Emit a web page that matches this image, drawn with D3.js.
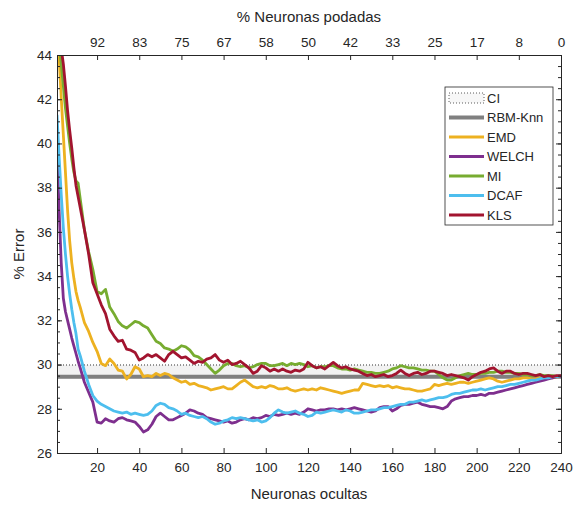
<!DOCTYPE html>
<html>
<head>
<meta charset="utf-8">
<script src="https://cdn.jsdelivr.net/npm/d3@7"></script>
<style>
  body { margin: 0; background: #fff; }
  text { font-family: "Liberation Sans", Arial, sans-serif; fill: #262626; }
</style>
</head>
<body>
<div id="chart"></div>
<script>
// hidden neurons (x positions of the samples)
var neurons = [1,2,3,4,5,6,7,8,9,10,11,12,14,16,18,20,22,
  24,26,28,30,32,34,36,38,40,42,
  44,46,48,50,52,54,56,58,60,62,
  64,66,68,70,72,74,76,78,80,82,
  84,86,88,90,92,94,96,98,100,102,
  104,106,108,110,112,114,116,118,120,122,
  124,126,128,130,132,134,136,138,140,142,
  144,146,148,150,152,154,156,158,160,162,
  164,166,168,170,172,174,176,178,180,182,
  184,186,188,190,192,194,196,198,200,202,
  204,206,208,210,212,214,216,218,220,222,
  224,226,228,230,232,234,236,238,240];

var emd = [45.7,43.9,42.1,40.4,38.7,37.0,35.6,34.6,33.9,33.3,32.9,32.6,31.9,31.5,31.0,30.6,30.05,
  29.95,30.25,30.05,29.75,29.7,29.35,29.55,29.9,29.8,29.45,
  29.5,29.45,29.6,29.5,29.6,29.55,29.4,29.3,29.2,29.25,
  29.1,29.15,29.05,29.0,28.95,28.85,28.9,28.95,29.0,28.9,
  28.9,29.05,29.2,29.3,29.15,29.0,28.95,29.0,28.95,29.05,
  29.0,28.9,28.9,28.95,28.85,28.8,28.85,28.9,28.85,28.9,
  28.85,28.95,28.9,28.85,28.8,28.75,28.7,28.75,28.8,28.85,
  28.85,29.15,29.1,29.05,29.0,29.05,29.0,29.05,28.95,29.0,
  28.95,28.9,28.9,28.85,28.8,28.8,28.85,28.9,29.1,29.05,
  29.1,29.15,29.1,29.15,29.2,29.2,29.15,29.2,29.25,29.3,
  29.35,29.4,29.35,29.25,29.2,29.25,29.3,29.35,29.35,29.4,
  29.4,29.35,29.35,29.4,29.4,29.45,29.4,29.45,29.45];

var welch = [39.9,37.0,34.6,33.0,32.4,32.0,31.6,31.2,30.85,30.5,30.15,29.85,29.2,28.75,28.3,27.4,27.35,
  27.55,27.45,27.4,27.55,27.6,27.5,27.45,27.4,27.2,26.95,
  27.05,27.3,27.65,27.8,27.65,27.5,27.5,27.6,27.7,27.8,
  27.95,27.9,27.8,27.75,27.6,27.55,27.5,27.45,27.4,27.45,
  27.35,27.4,27.5,27.55,27.5,27.6,27.55,27.6,27.7,27.65,
  27.75,27.7,27.75,27.8,27.75,27.8,27.75,27.85,28.0,27.95,
  27.9,27.95,27.95,28.0,28.0,27.95,28.0,27.95,28.0,28.05,
  28.0,27.95,27.9,27.85,27.9,28.05,28.1,28.1,27.9,28.0,
  28.15,28.2,28.2,28.25,28.3,28.2,28.15,28.1,28.1,28.05,
  28.0,28.1,28.35,28.45,28.5,28.55,28.55,28.6,28.6,28.65,
  28.6,28.7,28.7,28.75,28.8,28.85,28.9,28.95,29.0,29.05,
  29.1,29.15,29.2,29.25,29.3,29.35,29.4,29.45,29.45];

var mi = [45.5,44.5,43.6,42.6,41.6,40.8,40.0,39.3,38.7,38.3,38.2,37.5,36.1,35.1,34.3,33.3,33.2,
  33.4,32.6,32.3,31.95,31.75,31.65,31.8,31.95,31.9,31.75,
  31.65,31.35,31.05,30.95,30.75,30.7,30.6,30.7,30.85,30.8,
  30.65,30.4,30.35,30.2,30.0,29.8,29.6,29.75,29.95,30.05,
  30.05,29.95,29.9,29.95,29.85,29.9,30.0,30.05,30.05,29.95,
  29.95,30.0,30.05,29.95,30.05,30.0,30.05,30.0,29.9,29.95,
  29.85,29.9,29.9,29.95,29.95,29.85,29.8,29.8,29.75,29.8,
  29.75,29.7,29.65,29.65,29.6,29.6,29.65,29.7,29.8,29.85,
  29.95,29.9,29.85,29.85,29.8,29.75,29.75,29.7,29.7,29.55,
  29.4,29.3,29.3,29.4,29.5,29.55,29.6,29.55,29.55,29.6,
  29.6,29.65,29.65,29.7,29.7,29.65,29.65,29.6,29.6,29.55,
  29.55,29.5,29.5,29.55,29.5,29.5,29.5,29.45,29.5];

var dcaf = [41.3,39.4,37.7,36.2,35.0,34.0,33.2,32.5,31.9,31.4,30.7,30.4,29.7,29.1,28.6,28.35,28.2,
  28.1,28.0,27.9,27.85,27.8,27.85,27.75,27.8,27.75,27.7,
  27.75,27.9,28.15,28.25,28.2,28.05,28.0,27.9,27.75,27.8,
  27.7,27.65,27.6,27.65,27.55,27.4,27.3,27.35,27.45,27.5,
  27.6,27.55,27.6,27.55,27.5,27.45,27.5,27.4,27.45,27.6,
  27.8,27.95,27.85,27.8,27.85,27.9,27.8,27.75,27.65,27.7,
  27.85,27.8,27.85,27.9,27.95,27.9,27.85,27.95,27.9,27.8,
  27.8,27.85,27.9,27.95,27.95,28.0,28.05,28.05,28.1,28.15,
  28.2,28.2,28.3,28.3,28.35,28.4,28.35,28.4,28.45,28.5,
  28.5,28.55,28.65,28.7,28.7,28.75,28.8,28.85,28.85,28.9,
  28.85,28.9,28.95,29.0,29.0,29.05,29.1,29.1,29.15,29.2,
  29.25,29.3,29.3,29.35,29.4,29.4,29.45,29.45,29.5];

var kls = [46.5,45.3,44.3,43.6,42.6,41.5,40.6,39.8,38.9,38.1,37.6,37.1,36.1,35.0,33.7,33.2,32.7,
  32.3,31.6,31.3,31.05,31.1,30.7,30.65,30.55,30.2,30.3,
  30.45,30.35,30.45,30.3,30.15,30.45,30.6,30.45,30.3,30.35,
  30.2,30.05,30.15,30.1,30.25,30.3,30.45,30.2,30.1,30.2,
  30.0,30.05,30.15,30.0,29.85,29.6,29.7,29.95,29.85,29.7,
  29.8,29.7,29.8,29.7,29.65,29.75,29.7,29.8,30.1,29.95,
  29.85,29.9,29.8,29.95,30.1,29.95,29.85,29.9,29.8,29.75,
  29.7,29.6,29.5,29.55,29.45,29.5,29.55,29.45,29.5,29.6,
  29.75,29.6,29.5,29.6,29.65,29.55,29.6,29.7,29.7,29.65,
  29.6,29.5,29.55,29.5,29.45,29.4,29.3,29.45,29.55,29.65,
  29.7,29.8,29.85,29.7,29.6,29.7,29.7,29.6,29.55,29.6,
  29.6,29.55,29.5,29.55,29.45,29.5,29.45,29.5,29.5];

var rbmKnn = 29.45;
var ciBand = [29.35, 29.98];

var seriesNames = ["EMD", "WELCH", "MI", "DCAF", "KLS"];
var seriesColors = ["#EDB120", "#7E2F8E", "#77AC30", "#4DBEEE", "#A2142F"];
var seriesValues = [emd, welch, mi, dcaf, kls];

var xTicks = [20,40,60,80,100,120,140,160,180,200,220,240];
var topLabels = ["92","83","75","67","58","50","42","33","25","17","8","0"];
var yTicks = [26,28,30,32,34,36,38,40,42,44];

var width = 575, height = 506;
var margin = {top: 55, right: 14, bottom: 53, left: 57};

var svg = d3.select("#chart").append("svg")
    .attr("width", width)
    .attr("height", height);

var x = d3.scaleLinear().domain([1, 240]).range([margin.left, width - margin.right]);
var y = d3.scaleLinear().domain([26, 44]).range([height - margin.bottom, margin.top]);

svg.append("clipPath").attr("id", "plotclip")
  .append("rect")
    .attr("x", margin.left).attr("y", margin.top)
    .attr("width", x.range()[1] - margin.left)
    .attr("height", y.range()[0] - margin.top);

var plot = svg.append("g").attr("clip-path", "url(#plotclip)");

// CI band
plot.append("rect")
    .attr("x", x(1)).attr("width", x(240) - x(1))
    .attr("y", y(ciBand[1])).attr("height", y(ciBand[0]) - y(ciBand[1]))
    .attr("fill", "#f2f2f2");
plot.append("line")
    .attr("x1", x(1)).attr("x2", x(240))
    .attr("y1", y(ciBand[1])).attr("y2", y(ciBand[1]))
    .attr("stroke", "#333").attr("stroke-width", 1)
    .attr("stroke-dasharray", "1,2");

// RBM-Knn reference
plot.append("line")
    .attr("x1", x(1)).attr("x2", x(240))
    .attr("y1", y(rbmKnn)).attr("y2", y(rbmKnn))
    .attr("stroke", "#808080").attr("stroke-width", 4);

var line = d3.line()
    .x(function(d, i) { return x(neurons[i]); })
    .y(function(d) { return y(d); });

seriesValues.forEach(function(vals, k) {
  plot.append("path")
      .datum(vals)
      .attr("d", line)
      .attr("fill", "none")
      .attr("stroke", seriesColors[k])
      .attr("stroke-width", 2.8)
      .attr("stroke-linejoin", "round");
});

// axes
function styleAxis(g) {
  g.select(".domain").attr("stroke", "#262626");
  g.selectAll(".tick line").attr("stroke", "#262626");
  g.selectAll(".tick text")
    .style("font-family", "Liberation Sans, Arial, sans-serif")
    .style("font-size", "13.5px")
    .attr("fill", "#262626");
}

var yBottom = y.range()[0];
var xRight = x.range()[1];

svg.append("g")
    .attr("transform", "translate(0," + yBottom + ")")
    .call(d3.axisBottom(x).tickValues(xTicks).tickSizeInner(-5).tickSizeOuter(0).tickPadding(9))
    .call(styleAxis);

svg.append("g")
    .attr("transform", "translate(0," + margin.top + ")")
    .call(d3.axisTop(x).tickValues(xTicks).tickSizeInner(-5).tickSizeOuter(0).tickPadding(8)
      .tickFormat(function(d, i) { return topLabels[i]; }))
    .call(styleAxis);

var minorY = d3.range(26, 44.01, 0.5);
svg.append("g")
    .attr("transform", "translate(" + margin.left + ",0)")
    .call(d3.axisLeft(y).tickValues(minorY).tickSize(-3).tickFormat(""))
    .call(styleAxis);
svg.append("g")
    .attr("transform", "translate(" + margin.left + ",0)")
    .call(d3.axisLeft(y).tickValues(yTicks).tickSizeInner(-5).tickSizeOuter(0).tickPadding(5))
    .call(styleAxis);

svg.append("g")
    .attr("transform", "translate(" + xRight + ",0)")
    .call(d3.axisRight(y).tickValues(minorY).tickSize(-3).tickFormat(""))
    .call(styleAxis);
svg.append("g")
    .attr("transform", "translate(" + xRight + ",0)")
    .call(d3.axisRight(y).tickValues(yTicks).tickSizeInner(-5).tickSizeOuter(0).tickFormat(""))
    .call(styleAxis);

// axis titles
svg.append("text")
    .attr("x", (margin.left + xRight) / 2).attr("y", 22)
    .attr("text-anchor", "middle")
    .style("font-size", "15px")
    .text("% Neuronas podadas");

svg.append("text")
    .attr("x", (margin.left + xRight) / 2).attr("y", 499)
    .attr("text-anchor", "middle")
    .style("font-size", "15px")
    .text("Neuronas ocultas");

svg.append("text")
    .attr("transform", "translate(24," + ((margin.top + yBottom) / 2) + ") rotate(-90)")
    .attr("text-anchor", "middle")
    .style("font-size", "15px")
    .text("% Error");

// legend
var lg = svg.append("g").attr("transform", "translate(445,87)");
lg.append("rect")
    .attr("width", 108).attr("height", 138)
    .attr("fill", "#fff").attr("stroke", "#262626").attr("stroke-width", 0.8);

var legendNames = ["CI", "RBM-Knn"].concat(seriesNames);
var legendColors = [null, "#808080"].concat(seriesColors);

legendNames.forEach(function(name, i) {
  var ly = 11 + i * 19.5;
  if (i === 0) {
    lg.append("rect")
        .attr("x", 4).attr("y", ly - 5).attr("width", 35).attr("height", 10)
        .attr("fill", "#f7f7f7").attr("stroke", "#333").attr("stroke-width", 0.8)
        .attr("stroke-dasharray", "1,2");
  } else {
    lg.append("line")
        .attr("x1", 4).attr("x2", 39).attr("y1", ly).attr("y2", ly)
        .attr("stroke", legendColors[i])
        .attr("stroke-width", i === 1 ? 4 : 2.8);
  }
  lg.append("text")
      .attr("x", 42).attr("y", ly + 4.5)
      .style("font-size", "13px")
      .text(name);
});
</script>
</body>
</html>
